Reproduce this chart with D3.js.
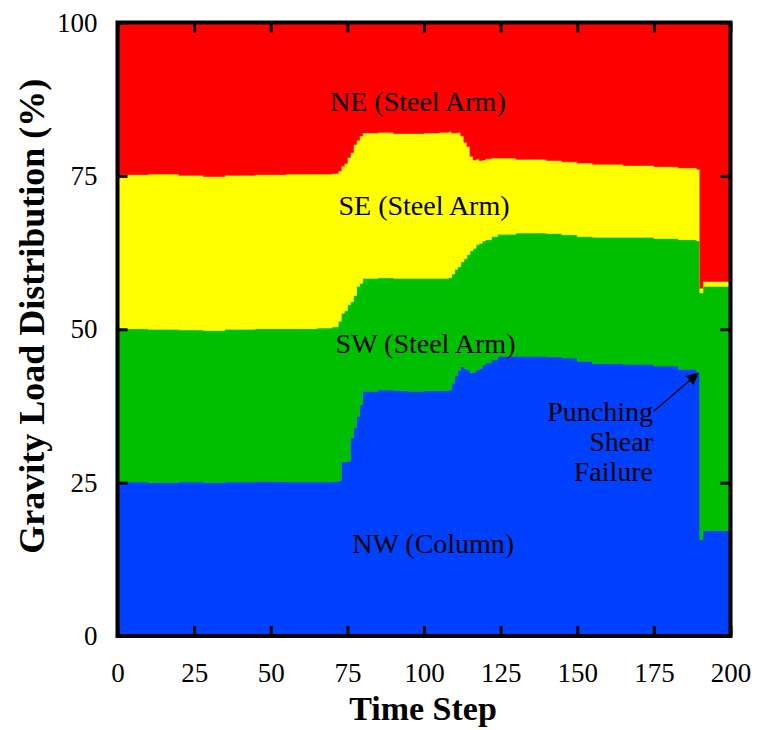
<!DOCTYPE html>
<html>
<head>
<meta charset="utf-8">
<script src="https://cdn.jsdelivr.net/npm/d3@7"></script>
<style>
  html, body { margin: 0; padding: 0; background: #fff; }
  svg { display: block; }
  svg text { font-family: "Times New Roman", Times, "Liberation Serif", serif; }
</style>
</head>
<body>
<svg id="chart" width="758" height="730"></svg>
<script>
// Time steps at which the load shares were sampled
const timeSteps = [0, 10, 20, 28, 35, 45, 55, 65, 70, 72, 73, 74, 75, 76, 77, 78, 79, 80, 85, 90, 95, 100, 105, 108,
  109, 110, 111, 112, 113, 114, 115, 116, 117, 118, 119, 120, 122, 124, 130, 140, 145, 150, 155, 165, 175, 183, 189,
  190, 191, 200];

// Share of the gravity load carried by each support (%)
const nwColumn = [25.1, 25.0, 25.1, 25.0, 25.1, 25.2, 25.1, 25.1, 25.2, 25.3, 28.4, 28.4, 28.5, 32.3, 34.0, 35.8, 37.7, 39.9, 40.1, 40.0, 39.9, 40.0, 40.0, 40.1,
  41.2, 42.4, 43.3, 43.9, 43.6, 43.4, 42.9, 43.0, 43.4, 43.6, 44.2, 44.5, 45.0, 45.6, 45.6, 45.5, 45.3, 44.8, 44.4, 44.3, 44.0, 43.5, 43.0,
  15.7, 17.2, 17.5];
const swSteelArm = [25.0, 25.0, 24.8, 24.8, 24.9, 24.9, 25.0, 25.1, 25.2, 26.0, 24.2, 24.6, 25.5, 22.2, 21.5, 21.2, 19.8, 18.4, 18.3, 18.3, 18.4, 18.3, 18.3, 18.3,
  17.8, 17.4, 16.9, 17.1, 17.9, 18.8, 19.9, 20.2, 20.4, 20.4, 20.2, 20.1, 20.1, 19.9, 20.1, 20.1, 20.1, 20.3, 20.6, 20.7, 20.8, 21.1, 21.4,
  40.2, 39.8, 39.5];
const seSteelArm = [25.1, 25.3, 25.2, 25.1, 25.1, 25.1, 25.2, 25.1, 25.0, 24.5, 24.0, 24.0, 24.0, 24.3, 24.6, 23.8, 24.0, 23.7, 23.7, 23.6, 23.6, 23.7, 23.8, 23.8,
  23.0, 22.2, 21.9, 20.5, 19.0, 17.6, 15.4, 14.4, 14.0, 13.5, 13.2, 13.2, 12.8, 12.4, 12.0, 11.9, 11.9, 12.0, 11.9, 11.7, 11.7, 11.7, 11.7,
  0.8, 0.8, 1.1];
const neSteelArm = [24.8, 24.7, 24.9, 25.1, 24.9, 24.8, 24.7, 24.7, 24.6, 24.2, 23.4, 23.0, 22.0, 21.2, 19.9, 19.2, 18.5, 18.0, 17.9, 18.1, 18.1, 18.0, 17.9, 17.8,
  18.0, 18.0, 17.9, 18.5, 19.5, 20.2, 21.8, 22.4, 22.2, 22.5, 22.4, 22.2, 22.1, 22.1, 22.3, 22.5, 22.7, 22.9, 23.1, 23.3, 23.5, 23.7, 23.9,
  43.3, 42.2, 41.9];

const seriesKeys = ["NW", "SW", "SE", "NE"];
const seriesColors = { NW: "#0040ff", SW: "#00bf00", SE: "#ffff00", NE: "#ff0000" };

const xTicks = [0, 25, 50, 75, 100, 125, 150, 175, 200];
const yTicks = [0, 25, 50, 75, 100];

const areaLabels = [
  { text: "NE (Steel Arm)", t: 98, v: 85.5 },
  { text: "SE (Steel Arm)", t: 100, v: 68.6 },
  { text: "SW (Steel Arm)", t: 100.5, v: 46.2 },
  { text: "NW (Column)", t: 103, v: 13.6 }
];
const failureNote = ["Punching", "Shear", "Failure"];

const rows = timeSteps.map((t, i) => ({
  t, NW: nwColumn[i], SW: swSteelArm[i], SE: seSteelArm[i], NE: neSteelArm[i]
}));

const svg = d3.select("#chart");
const plotLeft = 117.5, plotRight = 730.5, plotTop = 22.5, plotBottom = 636;
const serif = "'Times New Roman', Times, 'Liberation Serif', serif";

const x = d3.scaleLinear().domain([0, 200]).range([plotLeft, plotRight]);
const y = d3.scaleLinear().domain([0, 100]).range([plotBottom, plotTop]);

const stacked = d3.stack().keys(seriesKeys)(rows);

const area = d3.area()
  .curve(d3.curveStepAfter)
  .x(d => x(d.data.t))
  .y0(d => y(d[0]))
  .y1(d => y(d[1]));

const defs = svg.append("defs");
defs.append("clipPath").attr("id", "plotClip")
  .append("rect").attr("x", plotLeft).attr("y", plotTop)
  .attr("width", plotRight - plotLeft).attr("height", plotBottom - plotTop);

svg.append("g").attr("clip-path", "url(#plotClip)")
  .selectAll("path").data(stacked).join("path")
  .attr("d", area)
  .attr("fill", d => seriesColors[d.key])
  .attr("stroke", d => seriesColors[d.key])
  .attr("stroke-width", 0.6);

// Region labels
svg.append("g").selectAll("text").data(areaLabels).join("text")
  .attr("x", d => x(d.t)).attr("y", d => y(d.v))
  .attr("text-anchor", "middle")
  .attr("font-family", serif)
  .attr("font-size", 28)
  .attr("fill", "#000")
  .text(d => d.text);

// Failure annotation
const note = svg.append("text")
  .attr("text-anchor", "end")
  .attr("font-family", serif)
  .attr("font-size", 28)
  .attr("fill", "#000");
failureNote.forEach((line, i) => {
  note.append("tspan").attr("x", 653).attr("y", 421 + i * 30).text(line);
});

defs.append("marker")
  .attr("id", "arrowHead")
  .attr("viewBox", "0 0 10 10")
  .attr("refX", 10).attr("refY", 5)
  .attr("markerWidth", 12).attr("markerHeight", 12)
  .attr("markerUnits", "userSpaceOnUse")
  .attr("orient", "auto")
  .append("path").attr("d", "M0,0 L10,5 L0,10 Z").attr("fill", "#000");

svg.append("line")
  .attr("x1", 654).attr("y1", 411)
  .attr("x2", x(189.6)).attr("y2", y(42.9))
  .attr("stroke", "#000").attr("stroke-width", 1.3)
  .attr("marker-end", "url(#arrowHead)");

// Axes with inward ticks on all four sides
const tickLen = 10;
const bottomAxis = d3.axisBottom(x).tickValues(xTicks).tickSizeInner(-tickLen).tickSizeOuter(0).tickPadding(tickLen + 17);
const topAxis = d3.axisTop(x).tickValues(xTicks).tickSizeInner(-tickLen).tickSizeOuter(0).tickFormat("");
const leftAxis = d3.axisLeft(y).tickValues(yTicks).tickSizeInner(-tickLen).tickSizeOuter(0).tickPadding(tickLen + 10);
const rightAxis = d3.axisRight(y).tickValues(yTicks).tickSizeInner(-tickLen).tickSizeOuter(0).tickFormat("");

function styleAxis(g) {
  g.attr("font-family", serif);
  g.select(".domain").remove();
  g.selectAll(".tick line").attr("stroke", "#000").attr("stroke-width", 3);
  g.selectAll(".tick text")
    .attr("fill", "#000")
    .attr("font-size", 27)
    .attr("font-family", serif);
}

svg.append("g").attr("transform", `translate(0,${plotBottom})`).call(bottomAxis).call(styleAxis);
svg.append("g").attr("transform", `translate(0,${plotTop})`).call(topAxis).call(styleAxis);
svg.append("g").attr("transform", `translate(${plotLeft},0)`).call(leftAxis).call(styleAxis);
svg.append("g").attr("transform", `translate(${plotRight},0)`).call(rightAxis).call(styleAxis);

// Frame
svg.append("rect")
  .attr("x", plotLeft).attr("y", plotTop)
  .attr("width", plotRight - plotLeft).attr("height", plotBottom - plotTop)
  .attr("fill", "none").attr("stroke", "#000").attr("stroke-width", 4);

// Axis titles
svg.append("text")
  .attr("x", (plotLeft + plotRight) / 2 - 1).attr("y", 720)
  .attr("text-anchor", "middle")
  .attr("font-family", serif)
  .attr("font-size", 34).attr("font-weight", "bold")
  .text("Time Step");

svg.append("text")
  .attr("transform", `translate(44,${(plotTop + plotBottom) / 2 - 13}) rotate(-90)`)
  .attr("text-anchor", "middle")
  .attr("font-family", serif)
  .attr("font-size", 36).attr("font-weight", "bold")
  .text("Gravity Load Distribution (%)");
</script>
</body>
</html>
